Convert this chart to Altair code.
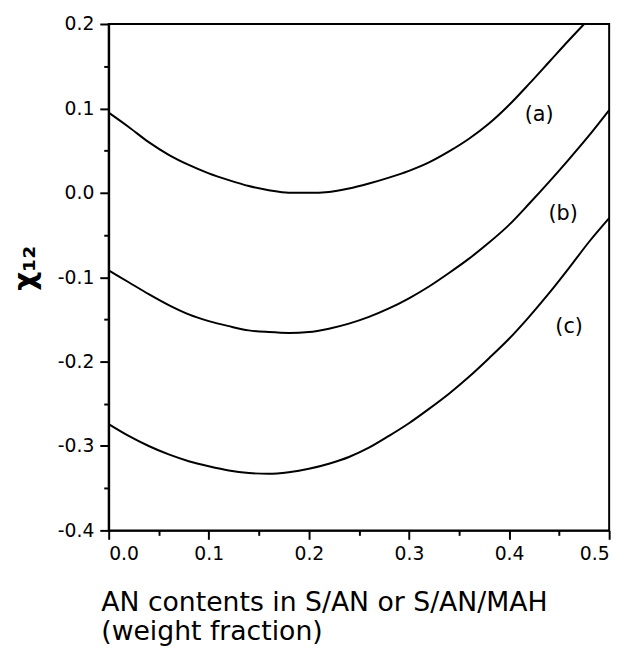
import altair as alt
import pandas as pd

# AN content (weight fraction)
x_a = [0.00, 0.02, 0.04, 0.06, 0.08, 0.10, 0.12, 0.14, 0.16, 0.18, 0.20, 0.22, 0.24,
       0.26, 0.28, 0.30, 0.32, 0.34, 0.36, 0.38, 0.40, 0.42, 0.44, 0.46, 0.475]
y_a = [0.095, 0.078, 0.060, 0.045, 0.033, 0.023, 0.015, 0.008, 0.003, 0.000, 0.000, 0.001, 0.005,
       0.011, 0.018, 0.026, 0.036, 0.049, 0.064, 0.082, 0.104, 0.129, 0.155, 0.181, 0.200]

x_bc = [0.00, 0.02, 0.04, 0.06, 0.08, 0.10, 0.12, 0.14, 0.16, 0.18, 0.20, 0.22, 0.24,
        0.26, 0.28, 0.30, 0.32, 0.34, 0.36, 0.38, 0.40, 0.42, 0.44, 0.46, 0.48, 0.50]
y_b = [-0.092, -0.106, -0.120, -0.133, -0.144, -0.152, -0.158, -0.163, -0.165, -0.166, -0.165,
       -0.161, -0.155, -0.147, -0.137, -0.125, -0.111, -0.095, -0.078, -0.059, -0.038, -0.013,
       0.013, 0.040, 0.068, 0.098]
y_c = [-0.274, -0.288, -0.300, -0.310, -0.318, -0.324, -0.329, -0.332, -0.333, -0.331, -0.327,
       -0.321, -0.313, -0.302, -0.288, -0.273, -0.256, -0.238, -0.218, -0.196, -0.173, -0.147,
       -0.119, -0.089, -0.058, -0.030]

label_text = ["(a)", "(b)", "(c)"]
label_x = [0.430, 0.454, 0.460]
label_y = [0.092, -0.025, -0.159]

x_major = [0.0, 0.1, 0.2, 0.3, 0.4, 0.5]
x_minor = [0.05, 0.15, 0.25, 0.35, 0.45]
y_major = [-0.4, -0.3, -0.2, -0.1, 0.0, 0.1, 0.2]
y_minor = [-0.35, -0.25, -0.15, -0.05, 0.05, 0.15]

rows = []
for xs, ys, name in [(x_a, y_a, "a"), (x_bc, y_b, "b"), (x_bc, y_c, "c")]:
    for xv, yv in zip(xs, ys):
        rows.append({"x": xv, "y": yv, "curve": name})
curves = pd.DataFrame(rows)
labels = pd.DataFrame({"x": label_x, "y": label_y, "text": label_text})

FONT = "DejaVu Sans"
xscale = alt.Scale(domain=[0, 0.5], nice=False, zero=False)
yscale = alt.Scale(domain=[-0.4, 0.2], nice=False, zero=False)

lab_expr = "replace(format(datum.value, '.1f'), '\u2212', '-')"

x_axis = alt.Axis(
    orient="bottom", values=x_major, labelExpr=lab_expr, grid=False,
    tickSize=9, tickWidth=2, tickColor="black", domainColor="black", domainWidth=2,
    labelFont=FONT, labelFontSize=19, labelColor="black", labelPadding=5,
    title=["AN contents in S/AN or S/AN/MAH", "(weight fraction)"],
    titleFont=FONT, titleFontSize=27, titleFontWeight="normal", titleColor="black",
    titleAnchor="start", titleAlign="left", titleBaseline="alphabetic",
    titleX=-8, titleY=81, titleLineHeight=30,
)
y_axis = alt.Axis(
    orient="left", values=y_major, labelExpr=lab_expr, grid=False,
    tickSize=9, tickWidth=2, tickColor="black", domainColor="black", domainWidth=2,
    labelFont=FONT, labelFontSize=19, labelColor="black", labelPadding=6,
    title="\u03c7\u2081\u2082", titleFont=FONT, titleFontSize=30, titleFontWeight="bold",
    titleColor="black", titleAngle=270, titleAlign="center", titleBaseline="alphabetic",
    titleX=-75, titleY=247,
)
x_minor_axis = alt.Axis(orient="bottom", values=x_minor, labels=False, domain=False, grid=False,
                        tickSize=5, tickWidth=2, tickColor="black", title="")
y_minor_axis = alt.Axis(orient="left", values=y_minor, labels=False, domain=False, grid=False,
                        tickSize=5, tickWidth=2, tickColor="black", title="")

lines = alt.Chart(curves).mark_line(color="black", strokeWidth=2, interpolate="monotone").encode(
    x=alt.X("x:Q", scale=xscale, axis=x_axis),
    y=alt.Y("y:Q", scale=yscale, axis=y_axis),
    detail="curve:N",
)

text = alt.Chart(labels).mark_text(font=FONT, fontSize=21, color="black",
                                   align="center", baseline="middle").encode(
    x=alt.X("x:Q", scale=xscale, axis=x_minor_axis),
    y=alt.Y("y:Q", scale=yscale, axis=y_minor_axis),
    text="text:N",
)

chart = alt.layer(lines, text).resolve_axis(x="independent", y="independent").properties(
    width=507, height=513,
    autosize=alt.AutoSizeParams(type="none"),
    padding={"left": 102, "top": 12, "right": 12, "bottom": 120},
    background="white",
).configure_view(stroke="black", strokeWidth=2)

chart.save("out.html", embed_options={"renderer": "svg", "actions": False})
